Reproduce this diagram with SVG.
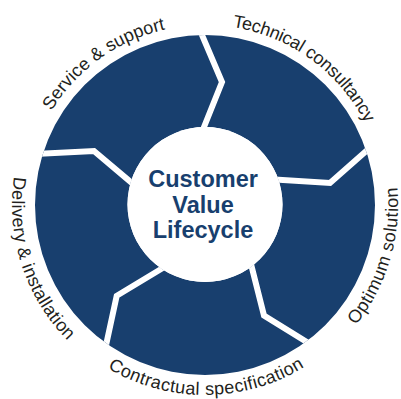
<svg xmlns="http://www.w3.org/2000/svg" xmlns:xlink="http://www.w3.org/1999/xlink" width="401" height="399" viewBox="0 0 401 399">
<style>
.seg{fill:#183f6e}
.gap{fill:none;stroke:#ffffff;stroke-width:6;stroke-linejoin:miter}
.lbl{font-family:"Liberation Sans",Arial,sans-serif;font-size:18px;fill:#231f20;text-anchor:middle}
.hubt{font-family:"Liberation Sans",Arial,sans-serif;font-weight:bold;font-size:23.5px;fill:#183f6e;text-anchor:middle}
</style>
<defs>
<clipPath id="ring"><path clip-rule="evenodd" d="M35,205A170,170 0 1,0 375,205A170,170 0 1,0 35,205Z M127.5,204.5A77.5,77.5 0 1,0 282.5,204.5A77.5,77.5 0 1,0 127.5,204.5Z"/></clipPath>
<path id="cw" d="M25,205A180,180 0 1,1 385,205A180,180 0 1,1 25,205"/>
<path id="ccw" d="M205,12A193,193 0 1,0 205,398A193,193 0 1,0 205,12"/>
<path id="ccw2" d="M205,15A190,190 0 1,0 205,395A190,190 0 1,0 205,15"/>
</defs>
<rect width="401" height="399" fill="#ffffff"/>
<g id="seg-service">
<polygon class="seg" clip-path="url(#ring)" points="-0.4,155.8 94,151 156.9,204.1 193.2,154 222,82 190,6.8 44.9,0.1"/>
<text class="lbl" letter-spacing="0.1"><textPath xlink:href="#cw" href="#cw" startOffset="170.9">Service &amp; support</textPath></text>
</g>
<g id="seg-technical">
<polygon class="seg" clip-path="url(#ring)" points="190,6.8 222,82 193.2,154 235,177 330,183 401.4,120.1 354.1,-8"/>
<text class="lbl" letter-spacing="-0.25"><textPath xlink:href="#cw" href="#cw" startOffset="395.1">Technical consultancy</textPath></text>
</g>
<g id="seg-optimum">
<polygon class="seg" clip-path="url(#ring)" points="401.4,120.1 330,183 235,177 244.3,237.4 264,315.5 346.8,366.8 454.9,276.7"/>
<text class="lbl" letter-spacing="0.5"><textPath xlink:href="#ccw" href="#ccw" startOffset="853.4">Optimum solution</textPath></text>
</g>
<g id="seg-contractual">
<polygon class="seg" clip-path="url(#ring)" points="346.8,366.8 264,315.5 244.3,237.4 189.7,251.8 116.7,295.8 96.8,387.9 214.1,464.8"/>
<text class="lbl" letter-spacing="0.45"><textPath xlink:href="#ccw2" href="#ccw2" startOffset="598.1">Contractual specification</textPath></text>
</g>
<g id="seg-delivery">
<polygon class="seg" clip-path="url(#ring)" points="96.8,387.9 116.7,295.8 189.7,251.8 156.9,204.1 94,151 -0.4,155.8 -39.3,293.9"/>
<text class="lbl" letter-spacing="0.3"><textPath xlink:href="#ccw" href="#ccw" startOffset="364.1">Delivery &amp; installation</textPath></text>
</g>
<g id="connectors" clip-path="url(#ring)">
<polyline class="gap" points="190,6.8 222,82 193.2,154"/>
<polyline class="gap" points="401.4,120.1 330,183 235,177"/>
<polyline class="gap" points="346.8,366.8 264,315.5 244.3,237.4"/>
<polyline class="gap" points="96.8,387.9 116.7,295.8 189.7,251.8"/>
<polyline class="gap" points="-0.4,155.8 94,151 156.9,204.1"/>
</g>
<g id="hub">
<circle cx="205" cy="204.5" r="77.5" fill="#ffffff"/>
<text class="hubt" x="203" y="187">Customer</text>
<text class="hubt" x="203" y="212.5">Value</text>
<text class="hubt" x="203" y="238">Lifecycle</text>
</g>
</svg>
